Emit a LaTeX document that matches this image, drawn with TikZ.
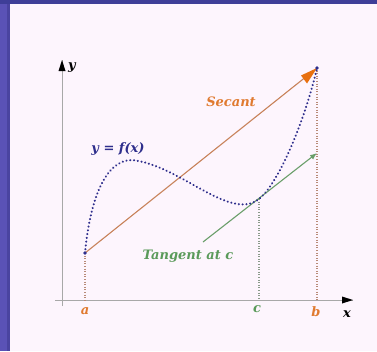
\documentclass[tikz,border=0pt]{standalone}
\usepackage{fontspec}
\setmainfont{DejaVu Serif}
\usetikzlibrary{arrows.meta,calc}
\definecolor{bgc}{HTML}{FDF5FD}
\definecolor{leftc}{HTML}{5A52B6}
\definecolor{leftd}{HTML}{4A44A0}
\definecolor{topc}{HTML}{3E3E98}
\definecolor{curvec}{HTML}{2E2E8C}
\definecolor{secc}{HTML}{C8825A}
\definecolor{secarr}{HTML}{E8700F}
\definecolor{orangec}{HTML}{E07A30}
\definecolor{tanc}{HTML}{6A9E6A}
\definecolor{greenc}{HTML}{5A9A5A}
\definecolor{axisc}{HTML}{A8A8A8}
\definecolor{dropb}{HTML}{B88A78}
\definecolor{dropc}{HTML}{8A9A8A}
\tikzset{
  lbl/.style={font=\bfseries\itshape\fontsize{13}{15}\selectfont, inner sep=0pt},
  axisline/.style={draw=axisc, line width=1pt},
  droplineb/.style={draw=dropb, line width=1.1pt, dash pattern=on 1pt off 1.6pt},
  droplinec/.style={draw=dropc, line width=1.1pt, dash pattern=on 1pt off 1.6pt},
  curvestyle/.style={draw=curvec, line width=2.3pt, line cap=round, dash pattern=on 0.01pt off 3.8pt}
}
\begin{document}
\begin{tikzpicture}[x=1pt,y=-1pt]
\useasboundingbox (0,0) rectangle (377,351);
\fill[leftc] (0,0) rectangle (377,351);
\fill[leftd] (7,0) rectangle (10,351);
\fill[topc] (0,0) rectangle (377,4);
\fill[bgc] (10,4) rectangle (377,351);
% key points
\coordinate (xend) at (353,300);
\coordinate (xstart) at (55,300);
\coordinate (ytop) at (62,60);
\coordinate (ybot) at (62,306);
\coordinate (A) at (85,253);
\coordinate (B) at (317,68);
\coordinate (C) at (259,199);
\coordinate (M) at (132,160);
\coordinate (Ax) at (85,300);
\coordinate (Bx) at (317,300);
\coordinate (Cx) at (259,300);
\coordinate (T0) at (203,242);
\coordinate (T1) at (317,153);
% axes
\draw[axisline] (xstart) -- (xend);
\draw[axisline] (ybot) -- (ytop);
\fill[black] (xend) -- ++(-11,-3.5) -- ++(0,7) -- cycle;
\fill[black] (ytop) -- ++(-3.5,11) -- ++(7,0) -- cycle;
% drop lines
\draw[droplineb] (A) -- (Ax);
\draw[droplineb] (B) -- (Bx);
\draw[droplinec] (C) -- (Cx);
% secant
\draw[secc, line width=1.1pt] (A) -- ($(B)!8pt!(A)$);
\fill[secarr] (B) -- ($(B)+(-16,7.5)$) -- ($(B)+(-10,15.5)$) -- cycle;
% tangent
\draw[tanc, line width=1.1pt, -{Latex[length=7pt,width=5.5pt]}] (T0) -- (T1);
% curve
\draw[curvestyle] (A) .. controls (90,200) and (105,160) .. (M)
  .. controls (180,165) and (230,222) .. (C)
  .. controls (279,183) and (305,120) .. (B);
\fill[curvec] (A) circle (1.8pt);
\fill[curvec] (B) circle (1.8pt);
% labels
\node[lbl, text=black] (ylab) at (72,68) {y};
\node[lbl, text=black] (xlab) at (347,314) {x};
\node[lbl, text=orangec] (alab) at (85,311) {a};
\node[lbl, text=greenc] (clab) at (257,309) {c};
\node[lbl, text=orangec] (blab) at (316,312) {b};
\node[lbl, text=curvec] (flab) at (118,149) {y = f(x)};
\node[lbl, text=orangec] (slab) at (231,102) {Secant};
\node[lbl, text=greenc] (tlab) at (188,256) {Tangent at c};
\end{tikzpicture}
\end{document}
